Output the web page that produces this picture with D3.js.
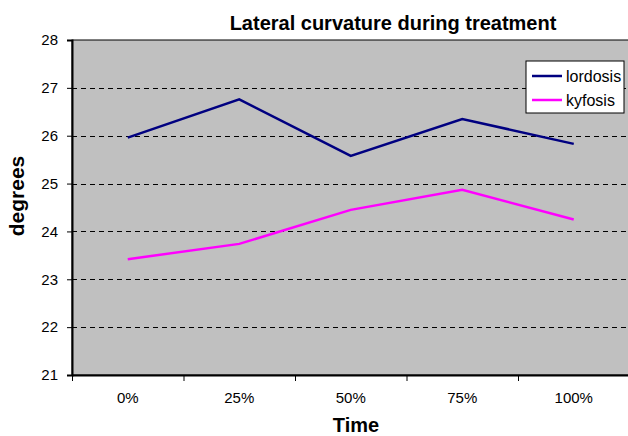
<!DOCTYPE html>
<html><head><meta charset="utf-8">
<script src="https://cdn.jsdelivr.net/npm/d3@7"></script>
<style>body{margin:0;background:#fff;}svg{display:block;font-family:"Liberation Sans",Arial,sans-serif;}</style>
</head><body>
<script>
const categories = ["0%","25%","50%","75%","100%"];
const lordosis = [25.96,26.76,25.58,26.35,25.83];
const kyfosis = [23.42,23.74,24.45,24.87,24.25];
const yTicks = [21,22,23,24,25,26,27,28];
const seriesNames = ["lordosis","kyfosis"];
const seriesColors = ["#000080","#ff00ff"];

const W=628,H=436;
const m={left:72,top:40,right:W+1.5,bottom:375};
const svg=d3.select("body").append("svg").attr("width",W).attr("height",H);
const x=d3.scaleBand().domain(categories).range([m.left,m.right]);
const y=d3.scaleLinear().domain([21,28]).range([m.bottom,m.top]);

svg.append("rect").attr("x",m.left).attr("y",m.top).attr("width",m.right-m.left).attr("height",m.bottom-m.top).attr("fill","#c0c0c0").attr("stroke","#000").attr("stroke-width",1);

svg.append("g").selectAll("line").data(yTicks.filter(d=>d>21&&d<28)).join("line")
 .attr("x1",m.left).attr("x2",m.right).attr("y1",d=>Math.round(y(d))+0.5).attr("y2",d=>Math.round(y(d))+0.5)
 .attr("stroke","#000").attr("stroke-dasharray","5,4").attr("stroke-width",1);

const yAxis=svg.append("g").attr("transform",`translate(${m.left},0)`)
 .call(d3.axisLeft(y).tickValues(yTicks).tickSize(5).tickPadding(9).tickFormat(d3.format("d")));
const xAxis=svg.append("g").attr("transform",`translate(0,${m.bottom})`)
 .call(d3.axisBottom(x).tickSize(0).tickPadding(17));
xAxis.selectAll(".tick line").remove();
xAxis.append("g").selectAll("line").data(categories).join("line")
 .attr("x1",d=>x(d)+0.5).attr("x2",d=>x(d)+0.5).attr("y1",0).attr("y2",6).attr("stroke","#000");
[yAxis,xAxis].forEach(a=>{a.attr("font-size",15).attr("font-family","Liberation Sans, Arial, sans-serif");a.selectAll("text").attr("fill","#000");a.select(".domain").attr("stroke","#000").attr("stroke-width",2);});

const line=d3.line().x((d,i)=>x(categories[i])+x.bandwidth()/2).y(d=>y(d));
[lordosis,kyfosis].forEach((s,i)=>{
 svg.append("path").datum(s).attr("d",line).attr("fill","none").attr("stroke",seriesColors[i]).attr("stroke-width",2.5);
});

svg.append("text").attr("x",393).attr("y",30).attr("text-anchor","middle").attr("font-weight","bold").attr("font-size",20).text("Lateral curvature during treatment");
svg.append("text").attr("x",356).attr("y",432).attr("text-anchor","middle").attr("font-weight","bold").attr("font-size",20).text("Time");
svg.append("text").attr("transform","translate(24,196) rotate(-90)").attr("text-anchor","middle").attr("font-weight","bold").attr("font-size",21).text("degrees");

const lg=svg.append("g");
lg.append("rect").attr("x",526).attr("y",61).attr("width",98).attr("height",52).attr("fill","#fff").attr("stroke","#000");
seriesNames.forEach((n,i)=>{
 const yy=76+i*24;
 lg.append("line").attr("x1",532).attr("x2",562).attr("y1",yy).attr("y2",yy).attr("stroke",seriesColors[i]).attr("stroke-width",2.5);
 lg.append("text").attr("x",566).attr("y",yy+5.5).attr("font-size",16).text(n);
});
</script>
</body></html>
